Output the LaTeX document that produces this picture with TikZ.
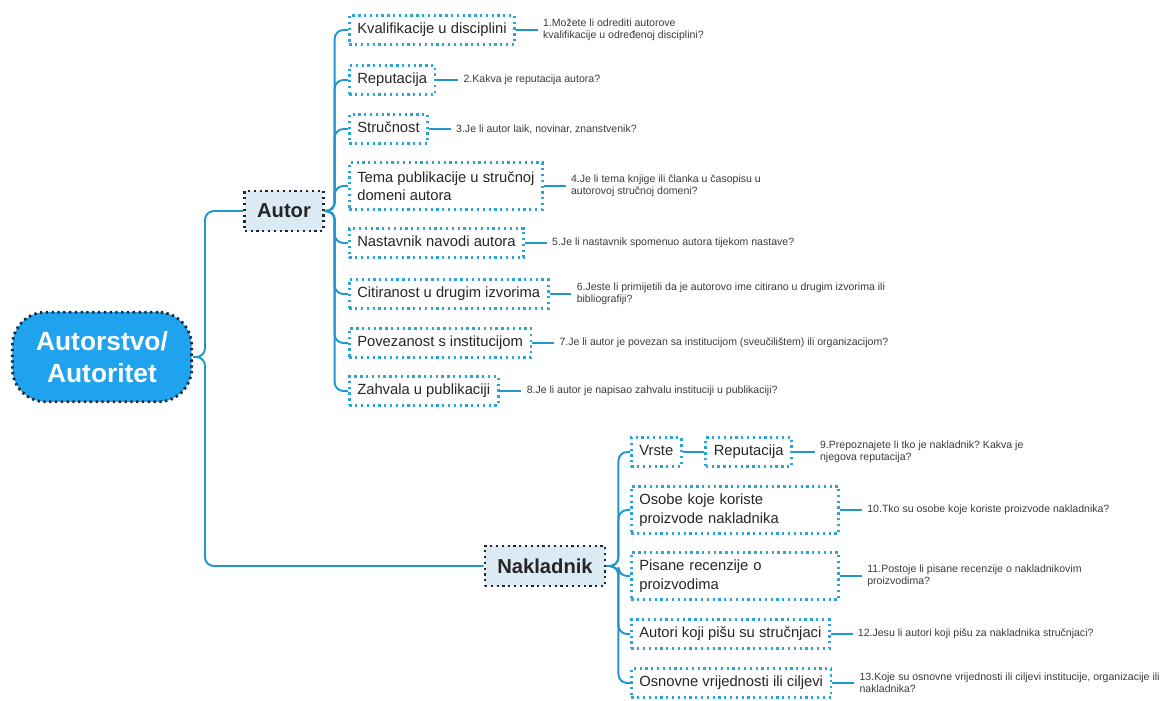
\documentclass[tikz,border=0pt]{standalone}
\usepackage{fontspec}
\setmainfont{Liberation Sans}
\frenchspacing
\usetikzlibrary{positioning}

\definecolor{rootblue}{HTML}{1FA3EE}
\definecolor{linkblue}{HTML}{2196CC}
\definecolor{dotblue}{HTML}{2AA6D6}
\definecolor{paleblue}{HTML}{DCEAF4}
\definecolor{darkdot}{HTML}{1C2733}
\definecolor{qgrey}{HTML}{3A3A3A}

\tikzset{
  dotframe/.style={line width=1.6pt, dash pattern=on 1.3pt off 2pt},
  rootbox/.style={dotframe, draw=darkdot, fill=rootblue, rounded corners=19pt,
    minimum width=102pt, minimum height=51pt, text=white, align=center,
    font=\fontsize{15}{18}\selectfont\bfseries},
  mainbox/.style={dotframe, draw=darkdot, fill=paleblue, inner xsep=7pt,
    minimum height=22.7pt, text=black!85, font=\fontsize{11.5}{14}\selectfont\bfseries},
  boxbase/.style={dotframe, draw=dotblue, fill=white, inner xsep=4.5pt,
    align=left, anchor=west, text=black!85, font=\fontsize{8.4}{10.5}\selectfont},
  subbox/.style={boxbase, text height=6.3pt, text depth=1.9pt, minimum height=16.4pt},
  tallbox/.style={boxbase, minimum height=26.6pt},
  question/.style={inner sep=2.8pt, align=left, text=qgrey,
    font=\fontsize{6}{7}\selectfont},
  link/.style={draw=linkblue, line width=1.1pt, rounded corners=5pt},
  qlink/.style={draw=linkblue, line width=0.8pt},
}

\begin{document}
\begin{tikzpicture}[x=0.02cm, y=-0.02cm]
\useasboundingbox (0,0) rectangle (1169,700);

\node[rootbox] (root) at (102,357) {Autorstvo/\\Autoritet};
\node[mainbox] (autor) at (284,211) {Autor};
\node[mainbox] (nak) at (545,566) {Nakladnik};

% autor
\node[subbox] (a1) at (348,30) {Kvalifikacije u disciplini};
\node[subbox] (a2) at (348,80) {Reputacija};
\node[subbox] (a3) at (348,129) {Stručnost};
\node[tallbox] (a4) at (348,186) {Tema publikacije u stručnoj\\domeni autora};
\node[subbox] (a5) at (348,243) {Nastavnik navodi autora};
\node[subbox] (a6) at (348,294) {Citiranost u drugim izvorima};
\node[subbox] (a7) at (348,343) {Povezanost s institucijom};
\node[subbox] (a8) at (348,391) {Zahvala u publikaciji};

\node[question, right=12.5pt of a1] (q1) {1.Možete li odrediti autorove\\kvalifikacije u određenoj disciplini?};
\node[question, right=12.5pt of a2] (q2) {2.Kakva je reputacija autora?};
\node[question, right=12.5pt of a3] (q3) {3.Je li autor laik, novinar, znanstvenik?};
\node[question, right=12.5pt of a4] (q4) {4.Je li tema knjige ili članka u časopisu u\\autorovoj stručnoj domeni?};
\node[question, right=12.5pt of a5] (q5) {5.Je li nastavnik spomenuo autora tijekom nastave?};
\node[question, right=12.5pt of a6] (q6) {6.Jeste li primijetili da je autorovo ime citirano u drugim izvorima ili\\bibliografiji?};
\node[question, right=12.5pt of a7] (q7) {7.Je li autor je povezan sa institucijom (sveučilištem) ili organizacijom?};
\node[question, right=12.5pt of a8] (q8) {8.Je li autor je napisao zahvalu instituciji u publikaciji?};

% nakladnik
\node[subbox] (vrste) at (630,452) {Vrste};
\node[subbox, right=12.5pt of vrste] (nrep) {Reputacija};
\node[tallbox, text width=109pt] (n2) at (630,510) {Osobe koje koriste\\proizvode nakladnika};
\node[tallbox, text width=109pt] (n3) at (630,576) {Pisane recenzije o\\proizvodima};
\node[subbox] (n4) at (630,634) {Autori koji pišu su stručnjaci};
\node[subbox] (n5) at (630,683) {Osnovne vrijednosti ili ciljevi};

\node[question, right=12.5pt of nrep] (q9) {9.Prepoznajete li tko je nakladnik? Kakva je\\njegova reputacija?};
\node[question, right=12.5pt of n2] (q10) {10.Tko su osobe koje koriste proizvode nakladnika?};
\node[question, right=12.5pt of n3] (q11) {11.Postoje li pisane recenzije o nakladnikovim\\proizvodima?};
\node[question, right=12.5pt of n4] (q12) {12.Jesu li autori koji pišu za nakladnika stručnjaci?};
\node[question, right=12.5pt of n5] (q13) {13.Koje su osnovne vrijednosti ili ciljevi institucije, organizacije ili\\nakladnika?};

% connectors
\draw[link] (root.east) -- ++(12,0) |- (autor.west);
\draw[link] (root.east) -- ++(12,0) |- (nak.west);
\foreach \i in {1,...,8} {
  \draw[link] (autor.east) -- ++(10,0) |- (a\i.west);
  \draw[qlink] (a\i.east) -- (q\i.west);
}
\foreach \c in {vrste,n2,n3,n4,n5}
  \draw[link] (nak.east) -- ++(12,0) |- (\c.west);
\draw[qlink] (vrste.east) -- (nrep.west);
\draw[qlink] (nrep.east) -- (q9.west);
\draw[qlink] (n2.east) -- (q10.west);
\draw[qlink] (n3.east) -- (q11.west);
\draw[qlink] (n4.east) -- (q12.west);
\draw[qlink] (n5.east) -- (q13.west);
\end{tikzpicture}
\end{document}
